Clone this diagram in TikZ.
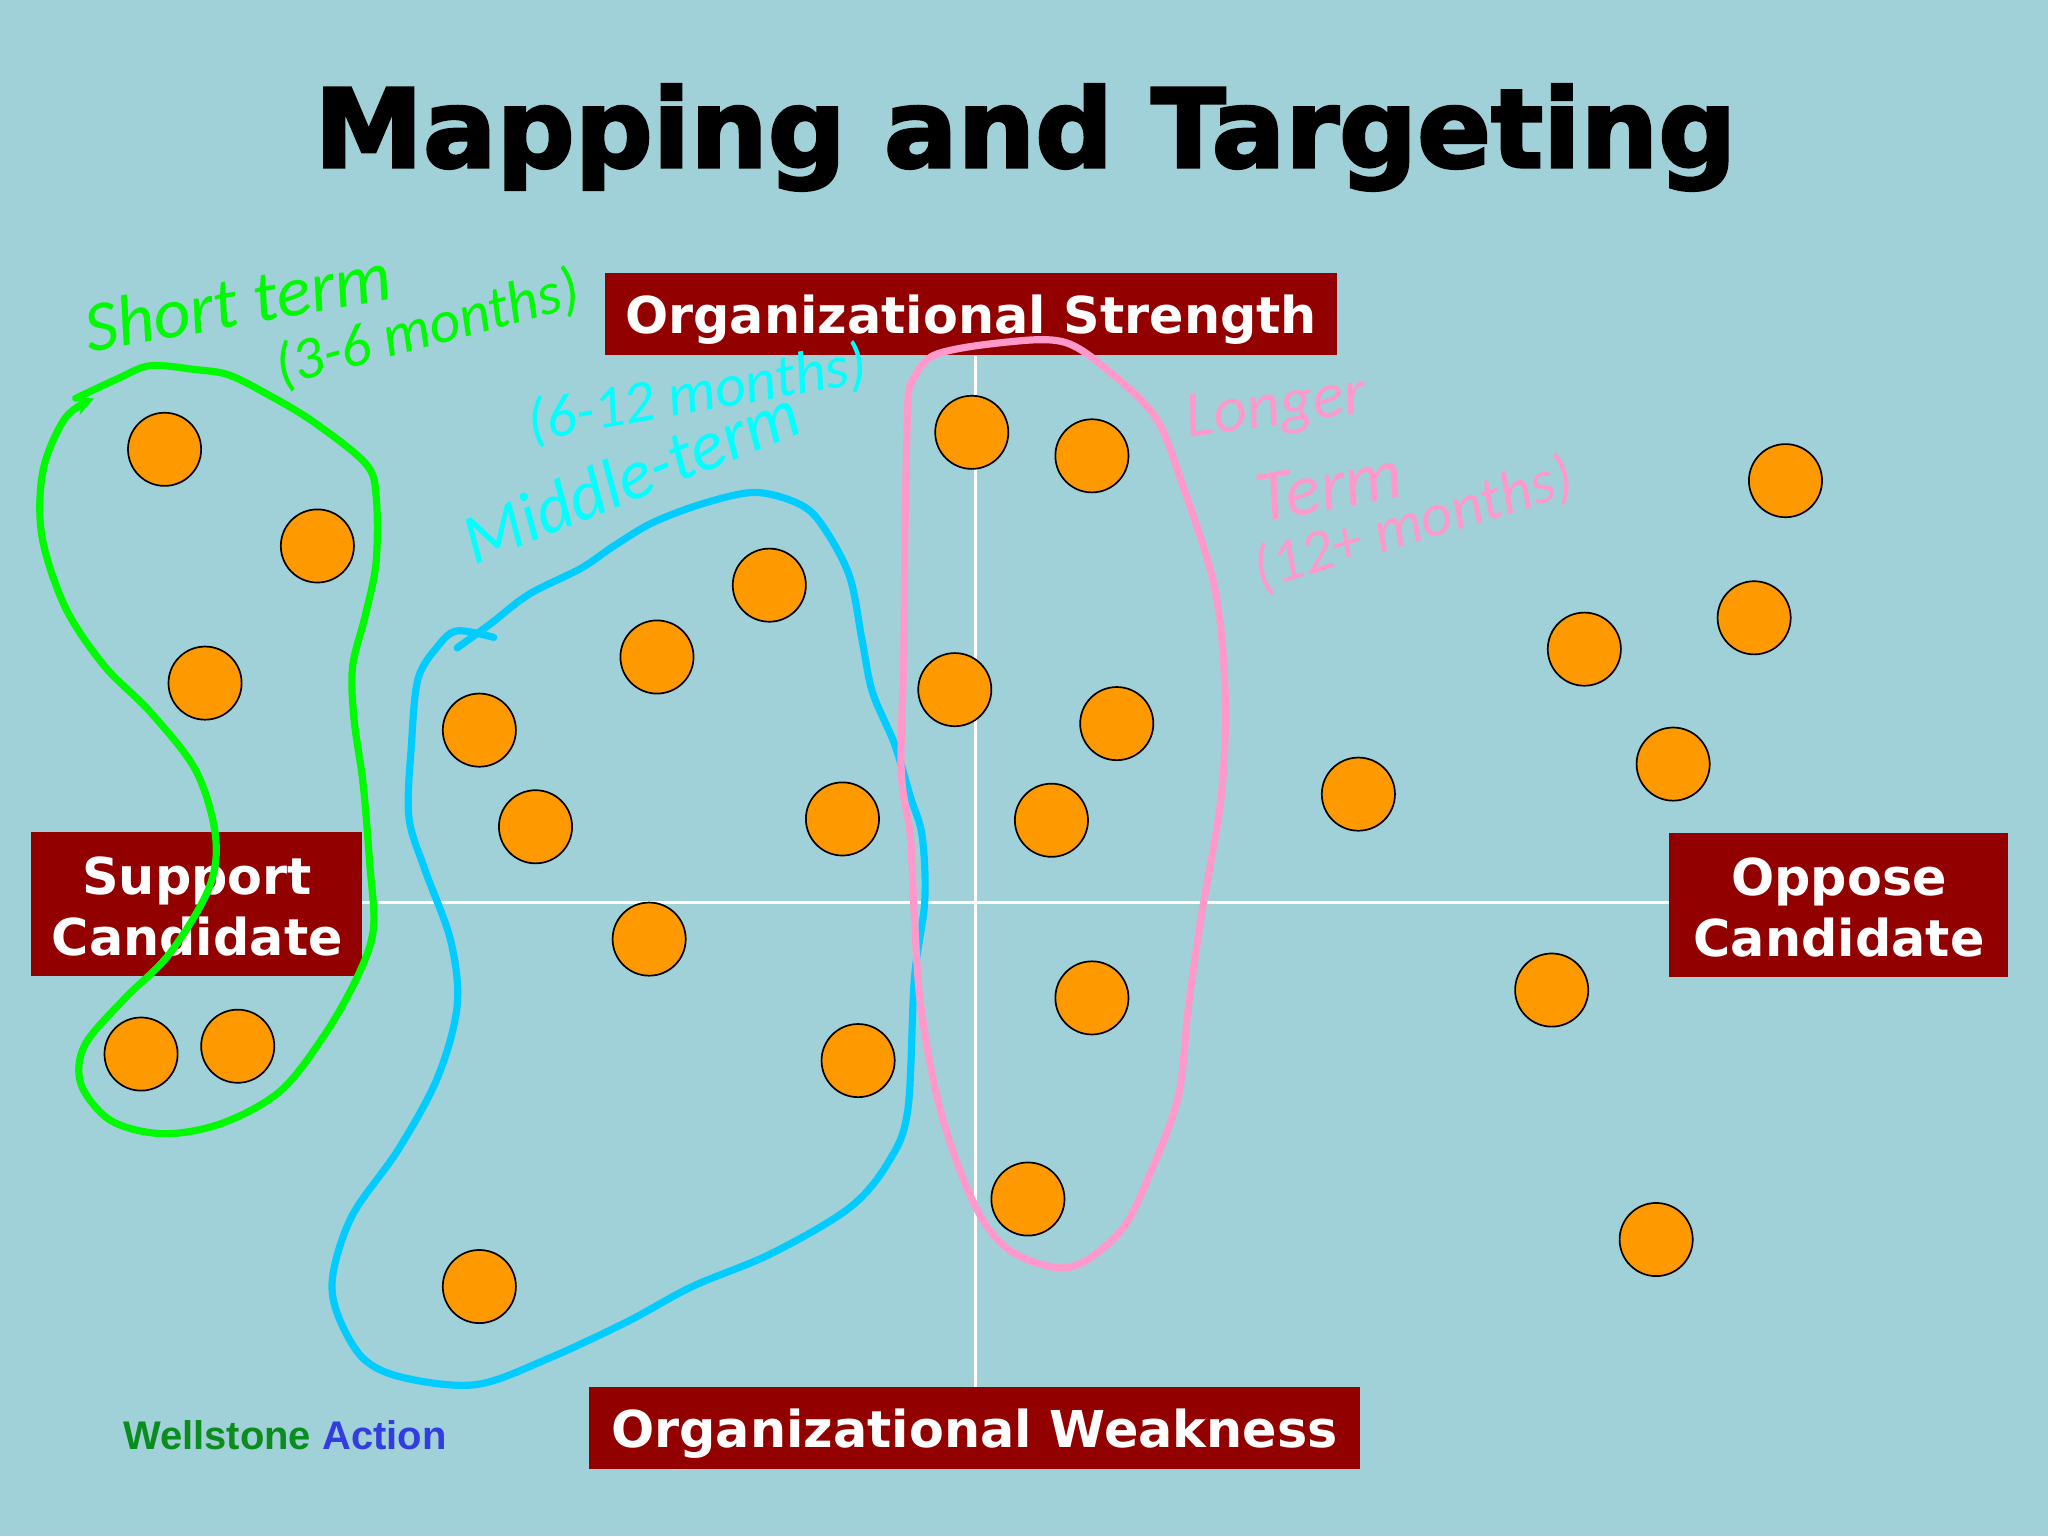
\documentclass[tikz,border=0pt]{standalone}
\usepackage{fontspec}
\setmainfont{DejaVu Sans}
\newfontfamily\titlefont[BoldFeatures={FakeBold=2.5}]{DejaVu Sans}
\newfontfamily\handfont{Carlito}
\newfontfamily\wellfont{Liberation Sans}
\usetikzlibrary{arrows.meta}
\definecolor{bgc}{RGB}{161,209,216}
\definecolor{boxc}{RGB}{146,0,0}
\definecolor{dotc}{RGB}{255,153,0}
\definecolor{greenink}{RGB}{0,250,0}
\definecolor{blueink}{RGB}{0,204,255}
\definecolor{cyanink}{RGB}{0,255,255}
\definecolor{pinkink}{RGB}{255,153,204}
\definecolor{wellgreen}{RGB}{10,140,30}
\definecolor{wellblue}{RGB}{50,60,225}
\tikzset{
  x=1pt,y=-1pt,
  dot/.style={circle,draw=black,fill=dotc,line width=1.3pt,minimum size=56pt,inner sep=0pt},
  labelbox/.style={fill=boxc,minimum height=63pt,inner sep=0pt},
  labeltext/.style={text=white,font=\bfseries\fontsize{38.9}{47}\selectfont,align=center,inner sep=0pt},
  axisline/.style={draw=white,line width=2.6pt},
  loopline/.style={line width=5.5pt,line cap=round,line join=round},
  hand/.style={font=\handfont\itshape\fontsize{#1}{#1}\selectfont,inner sep=0pt,anchor=base west},
}
\begin{document}
\begin{tikzpicture}
\useasboundingbox (0,0) rectangle (1568,1176);
\fill[bgc] (0,0) rectangle (1568,1176);
\node[anchor=base,font=\titlefont\bfseries\fontsize{83.5}{84}\selectfont] (title) at (785,128) {Mapping and Targeting};

\node[labelbox,minimum width=560pt] (strength) at (743.5,240.5) {};
\node[labeltext] (strengthtext) at (743.5,245) {Organizational Strength};
\node[labelbox,minimum width=590pt] (weakness) at (746,1093.5) {};
\node[labeltext] (weaknesstext) at (746,1098) {Organizational Weakness};
\node[labelbox,minimum width=253pt,minimum height=110pt] (support) at (150.5,692) {};
\node[labeltext] (supporttext) at (151,694) {Support\\Candidate};
\node[labelbox,minimum width=259pt,minimum height=110pt] (oppose) at (1407.5,693) {};
\node[labeltext] (opposetext) at (1408,695) {Oppose\\Candidate};
\draw[axisline] (strength.south -| 747,0) -- (weakness.north -| 747,0);
\draw[axisline] (support.east |- 0,691) -- (oppose.west |- 0,691);

\foreach \n/\p in {a1/{126,344},a2/{243,418},a3/{157,523},a4/{108,807},a5/{182,801},
 b1/{367,559},b2/{503,503},b3/{589,448},b4/{410,633},b5/{645,627},b6/{497,719},b7/{657,812},b8/{367,985},
 c1/{744,331},c2/{836,349},c3/{731,528},c4/{855,554},c5/{805,628},c6/{836,764},c7/{787,918},
 d1/{1367,368},d2/{1343,473},d3/{1213,497},d4/{1281,585},d5/{1040,608},d6/{1188,758},d7/{1268,949}}
 {\node[dot] (\n) at (\p) {};}

\draw[loopline,greenink,-{Stealth[length=15pt,width=15pt]}] plot[smooth,tension=0.55] coordinates {
 (58,305) (90,290) (115,280) (150,283) (175,287) (205,302) (240,323) (280,355)
 (288,380) (288,430) (280,470) (270,510) (271,550) (278,600) (283,660) (286,710)
 (275,745) (250,790) (215,835) (170,860) (125,868) (85,858) (62,830) (65,800)
 (95,765) (130,730) (160,680) (165,640) (150,590) (115,545) (80,510) (50,465)
 (32,410) (33,360) (50,320) (72,305)};

\draw[loopline,blueink] plot[smooth,tension=0.55] coordinates {
 (350,496) (375,478) (405,455) (445,435) (470,418) (500,400) (540,385) (578,377)
 (610,385) (628,400) (650,440) (660,490) (668,530) (685,570) (697,610) (706,640)
 (708,690) (700,750) (695,850) (680,890) (650,925) (590,960) (530,985) (480,1012)
 (420,1040) (365,1060) (310,1055) (278,1040) (258,1005) (255,975) (270,930) (305,880)
 (335,825) (350,770) (345,720) (325,665) (313,625) (315,570) (320,520) (335,495)
 (350,483) (378,488)};

\draw[loopline,pinkink] plot[smooth,tension=0.55] coordinates {
 (697,295) (715,272) (770,262) (815,262) (850,285) (885,320) (905,370) (930,450)
 (938,530) (935,610) (920,700) (910,770) (902,840) (880,900) (860,940) (830,966)
 (805,970) (770,955) (745,920) (720,850) (705,770) (700,700) (697,640) (690,590)
 (692,500) (693,400) (695,310) (697,295)};

\node[hand=55,greenink,rotate=10] (shortterm) at (68,270) {Short term};
\node[hand=46,greenink,rotate=15] (shortmonths) at (215,296) {(3-6 months)};
\node[hand=46,cyanink,rotate=10] (midmonths) at (407,338) {(6-12 months)};
\node[hand=54,cyanink,rotate=22] (midterm) at (363,433) {Middle-term};
\node[hand=50,pinkink,rotate=8] (longer) at (910,335) {Longer};
\node[hand=56,pinkink,rotate=10] (term) at (965,400) {Term};
\node[hand=47,pinkink,rotate=17] (longmonths) at (965,452) {(12+ months)};

\node[anchor=base west,inner sep=0pt,font=\wellfont\bfseries\fontsize{30.6}{31}\selectfont] (well) at (94,1110)
  {\textcolor{wellgreen}{Wellstone} \textcolor{wellblue}{Action}};
\end{tikzpicture}
\end{document}
